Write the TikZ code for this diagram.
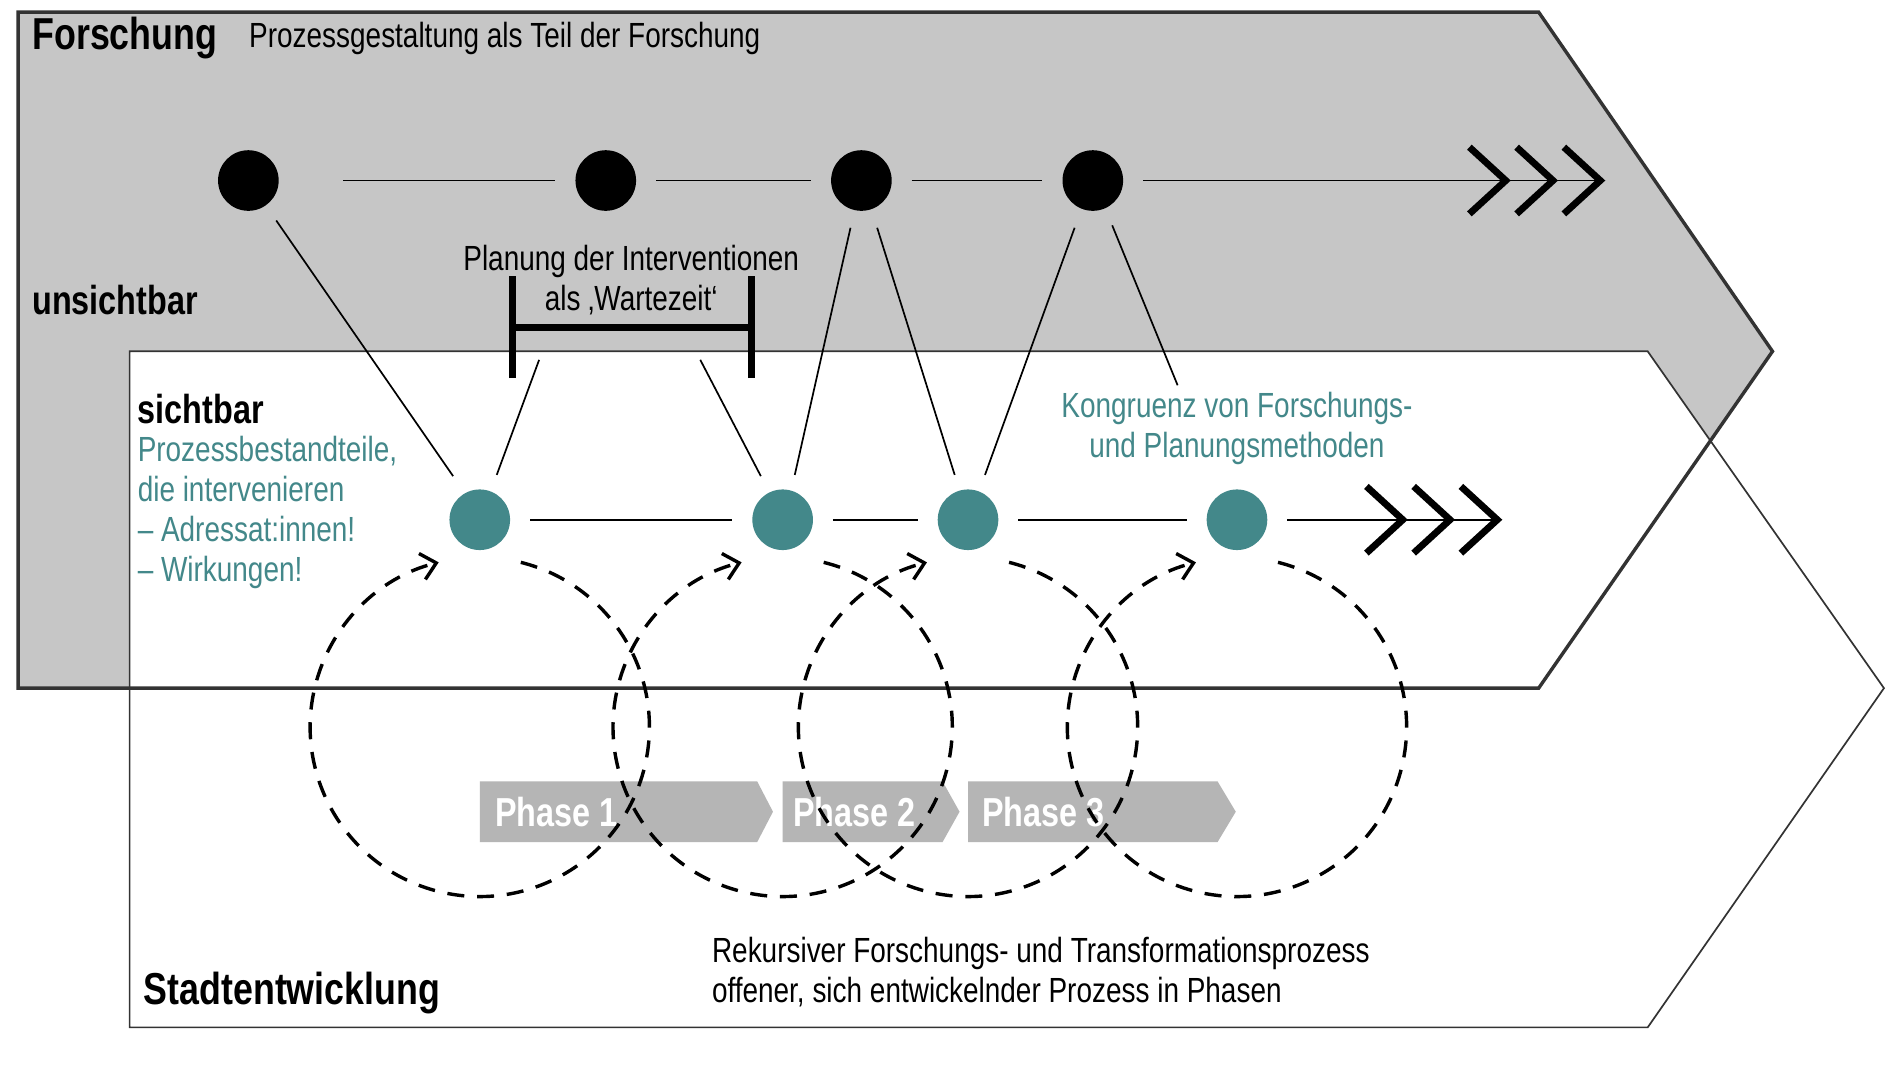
\documentclass[tikz,border=0pt]{standalone}
\usepackage{fontspec}
\setmainfont{Liberation Sans}[FakeStretch=0.8]
\usetikzlibrary{arrows.meta}
\definecolor{teal1}{HTML}{43888A}
\definecolor{graybg}{HTML}{C6C6C6}
\definecolor{phasegray}{HTML}{B5B5B5}
\tikzset{
    dotblack/.style={circle, fill=black, minimum size=0.5cm, inner sep=0pt},
    dotteal/.style={circle, fill=teal1, minimum size=0.5cm, inner sep=0pt},
    txt/.style={font=\fontsize{8.2}{10}\selectfont, inner sep=0pt},
    head/.style={font=\fontsize{9.5}{11}\selectfont\bfseries, inner sep=0pt},
    chev/.style={-{Straight Barb[length=0.3cm,width=0.55cm,line width=1.6pt,sep=0.02cm] Straight Barb[length=0.3cm,width=0.55cm,line width=1.6pt,sep=0.02cm] Straight Barb[length=0.3cm,width=0.55cm,line width=1.6pt]}},
    loop/.style={dashed, thick, dash pattern=on 4pt off 3pt, -{Straight Barb[length=0.12cm,width=0.22cm]}},
    phase/.style={fill=phasegray, draw=none},
}
\begin{document}
\begin{tikzpicture}[x=0.01cm, y=-0.01cm]
    %--------------------%
    % Parameters
    %--------------------%
    \def\rloop{140}
    \def\yloop{600}
    \useasboundingbox (0,0) rectangle (1560,885);

    %--------------------%
    % Background Chevrons
    %--------------------%
    % Forschung
    \fill[graybg] (15,10) -- (1270,10) -- (1463,290) -- (1270,568) -- (15,568) -- cycle;
    % Stadtentwicklung
    \fill[white] (107,290) -- (1360,290) -- (1555,568) -- (1360,848) -- (107,848) -- cycle;
    \draw[thick, black!80] (15,10) -- (1270,10) -- (1463,290) -- (1270,568) -- (15,568) -- cycle;
    \draw[black!80] (107,290) -- (1360,290) -- (1555,568) -- (1360,848) -- (107,848) -- cycle;

    %--------------------%
    % Phases
    %--------------------%
    \fill[phase] (396,645) -- (625,645) -- (638,670) -- (625,695) -- (396,695) -- cycle;
    \fill[phase] (646,645) -- (778,645) -- (792,670) -- (778,695) -- (646,695) -- cycle;
    \fill[phase] (799,645) -- (1005,645) -- (1020,670) -- (1005,695) -- (799,695) -- cycle;
    \node[head, text=white, anchor=west] (phase1) at (408,670) {Phase 1};
    \node[head, text=white, anchor=west] (phase2) at (654,670) {Phase 2};
    \node[head, text=white, anchor=west] (phase3) at (810,670) {Phase 3};

    %--------------------%
    % Research Line
    %--------------------%
    \node[dotblack] (r1) at (205,149) {};
    \node[dotblack] (r2) at (500,149) {};
    \node[dotblack] (r3) at (711,149) {};
    \node[dotblack] (r4) at (902,149) {};
    \coordinate (rend) at (1325,149);
    \draw[shorten <=15pt, shorten >=4.5pt] (r1) -- (r2);
    \draw[shorten <=4.5pt, shorten >=4.5pt] (r2) -- (r3);
    \draw[shorten <=4.5pt, shorten >=4.5pt] (r3) -- (r4);
    \draw[chev, shorten <=4.5pt] (r4) -- (rend);

    %--------------------%
    % Visible Line
    %--------------------%
    \node[dotteal] (v1) at (396,429) {};
    \node[dotteal] (v2) at (646,429) {};
    \node[dotteal] (v3) at (799,429) {};
    \node[dotteal] (v4) at (1021,429) {};
    \coordinate (vend) at (1240,429);
    \draw[shorten <=4.5pt, shorten >=4.5pt] (v1) -- (v2);
    \draw[shorten <=4.5pt, shorten >=4.5pt] (v2) -- (v3);
    \draw[shorten <=4.5pt, shorten >=4.5pt] (v3) -- (v4);
    \draw[chev, shorten <=4.5pt] (v4) -- (vend);

    %--------------------%
    % Bracket
    %--------------------%
    \coordinate (bl) at (423,270);
    \coordinate (br) at (620,270);
    \draw[line width=1.6pt] (bl) -- (br);
    \draw[line width=1.6pt] ([yshift=-12]bl) -- ([yshift=12]bl);
    \draw[line width=1.6pt] ([yshift=-12]br) -- ([yshift=12]br);
    \coordinate (bl2) at (445,297);
    \coordinate (br2) at (578,297);
    \coordinate (kong) at (972,318);

    %--------------------%
    % Connections
    %--------------------%
    \draw (r1) ++(23,33) -- (374,393);
    \draw (bl2) -- (410,392);
    \draw (br2) -- (628,393);
    \draw (702,188) -- (656,392);
    \draw (724,188) -- (788,392);
    \draw (887,188) -- (813,392);
    \draw (918,186) -- (kong);

    %--------------------%
    % Recursive Loops
    %--------------------%
    \foreach \cx in {396,646,799,1021} {
        \draw[loop] ({\cx+\rloop*cos(76)},{\yloop-\rloop*sin(76)})
            arc[start angle=76, end angle=-256, x radius=\rloop, y radius=-\rloop];
    }

    %--------------------%
    % Labels
    %--------------------%
    \node[head, anchor=west, font=\fontsize{10.5}{12}\selectfont\bfseries] (forschung) at (26,31) {Forschung};
    \node[txt, anchor=west] (forschungtxt) at (205,32) {Prozessgestaltung als Teil der Forschung};
    \node[head, anchor=west] (unsichtbar) at (26,248) {unsichtbar};
    \node[head, anchor=west] (sichtbar) at (113,338) {sichtbar};
    \node[txt, anchor=north west, text=teal1, align=left, font=\fontsize{8.2}{9.4}\selectfont] (bestand) at (113,359)
        {Prozessbestandteile,\\die intervenieren\\– Adressat:innen!\\– Wirkungen!};
    \node[txt, align=center, font=\fontsize{8.2}{9.4}\selectfont] (planung) at (521,231)
        {Planung der Interventionen\\als ‚Wartezeit‘};
    \node[txt, align=center, text=teal1, font=\fontsize{8.2}{9.4}\selectfont] (kongtxt) at (1021,354)
        {Kongruenz von Forschungs-\\und Planungsmethoden};
    \node[head, anchor=west, font=\fontsize{10.5}{12}\selectfont\bfseries] (stadt) at (118,820) {Stadtentwicklung};
    \node[txt, anchor=north west, align=left, font=\fontsize{8.2}{9.4}\selectfont] (rekursiv) at (587,773)
        {Rekursiver Forschungs- und Transformationsprozess\\offener, sich entwickelnder Prozess in Phasen};
\end{tikzpicture}
\end{document}
